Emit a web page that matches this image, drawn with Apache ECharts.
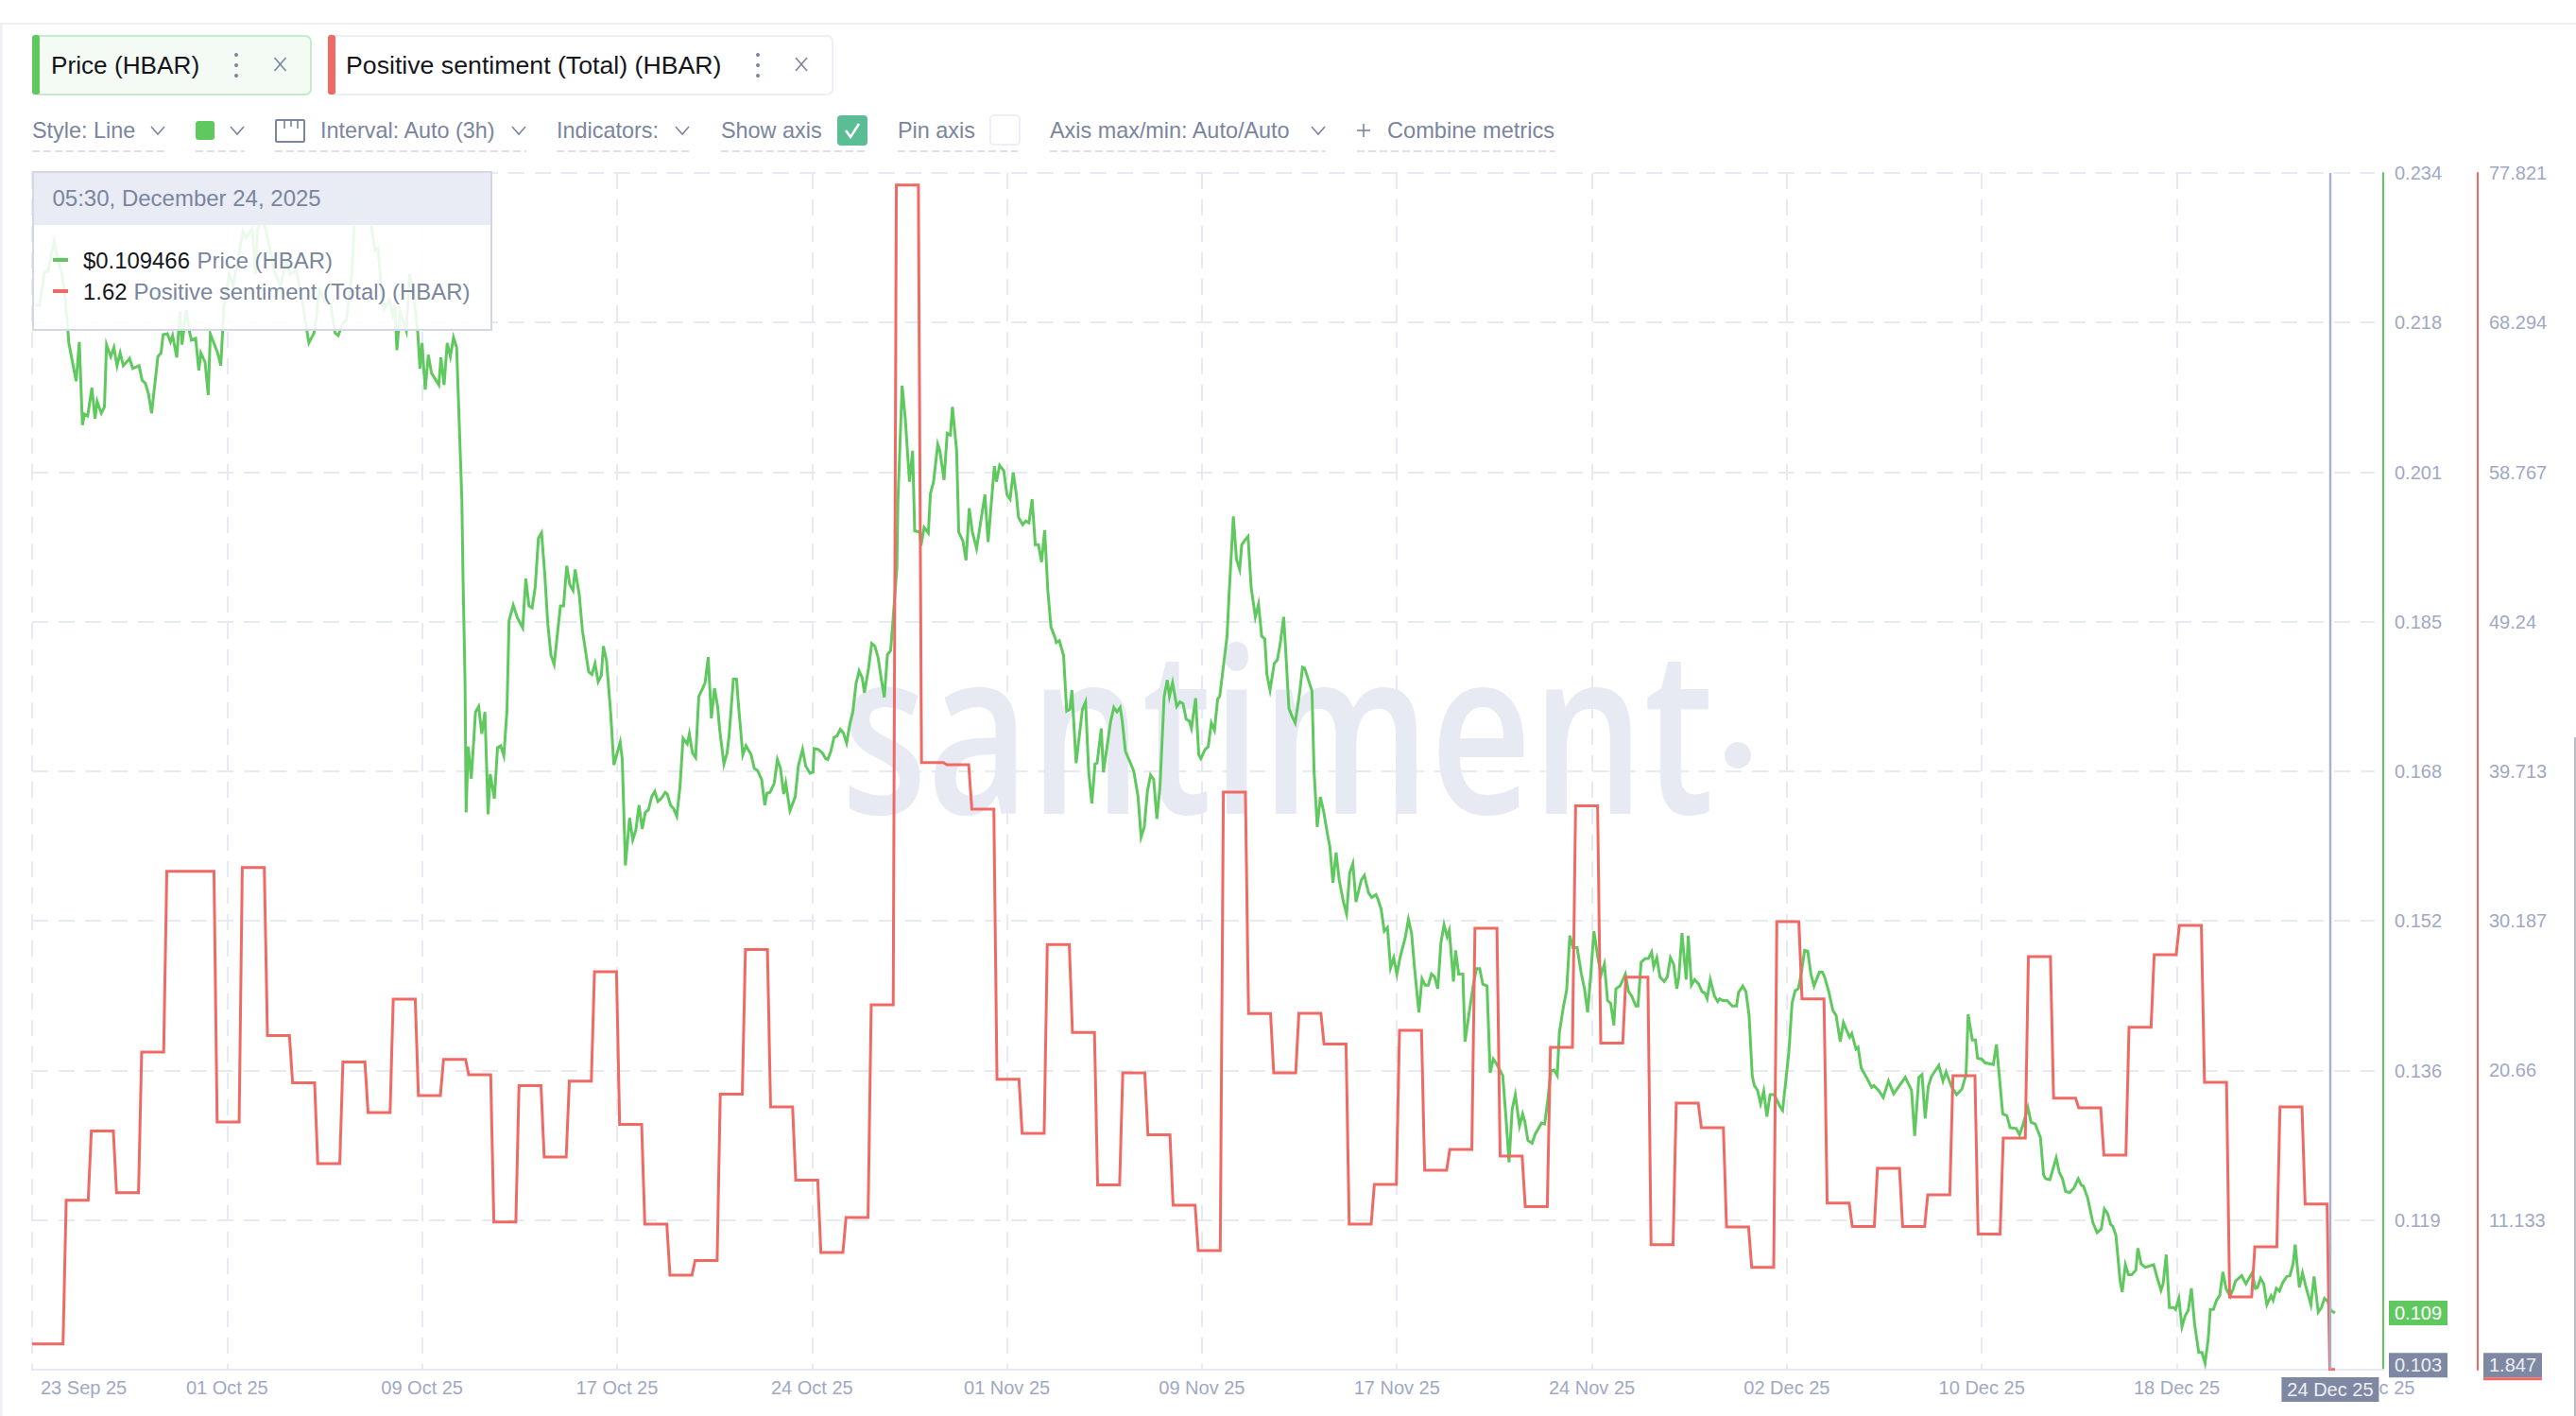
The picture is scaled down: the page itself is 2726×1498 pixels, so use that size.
<!DOCTYPE html>
<html><head><meta charset="utf-8">
<style>html,body{margin:0;padding:0;background:#fff;width:2726px;height:1498px;overflow:hidden}#c{width:2726px;height:1498px}</style>
<script src="https://cdn.jsdelivr.net/npm/echarts@6/dist/echarts.min.js"></script>
</head><body><div id="c"></div>
<script>
// hours since the first sample (late on 23 Sep 25)
const priceHours = [3,7,12,15,21,25,28,31,34,35,42,45,48,50,53,57,60,62,66,69,71,75,78,81,84,87,93,96,102,105,108,111,114,120,123,125,129,132,134,138,141,143,147,150,152,156,159,161,165,168,170,177,180,183,188,192,201,204,210,213,215,219,223,228,231,237,242,246,252,258,264,269,271,274,280,285,289,292,296,300,305,309,312,318,323,327,330,333,336,341,344,346,348,351,357,360,364,368,370,372,375,378,381,388,390,393,396,399,402,405,
410,411,413,414,416,419,423,426,429,432,435,437,441,444,447,450,453,455,459,463,468,471,474,477,480,483,486,489,492,495,498,500,504,507,510,513,516,518,522,525,531,534,537,540,543,545,548,552,555,561,563,566,570,573,576,579,582,585,588,591,594,597,600,604,606,609,612,615,618,621,625,627,630,633,636,639,642,645,648,651,654,656,660,663,665,669,672,674,678,681,683,686,689,692,696,699,701,704,708,711,714,717,719,723,728,731,735,738,742,745,746,750,754,757,759,762,765,768,771,774,777,780,783,786,789,792,794,798,801,804,807,810,813,816,819,821,825,826,830,833,837,840,842,847,848,851,855,857,860,864,866,870,873,876,878,882,884,888,891,894,897,901,909,912,918,920,923,927,930,933,936,939,941,945,948,951,954,957,960,963,966,969,972,976,977,980,984,987,990,992,996,1002,1005,1008,1011,1014,1016,1020,1022,1029,1032,1035,1038,1040,1043,1049,
1051,1055,1058,1061,1064,1067,1070,1073,1076,1080,1083,1085,1088,1092,1095,1098,1101,1104,1106,1110,1113,1115,1119,1122,1125,1128,1131,1133,1140,1142,1146,1149,1152,1154,1157,1160,1163,1167,1170,1173,1176,1178,1181,1185,1188,1191,1194,1196,1199,1202,1205,1209,1212,1214,1221,1223,1226,1229,1232,1236,1238,1241,1244,1247,1251,1254,1257,1260,1263,1268,1271,1275,1278,1282,1284,1287,1290,1293,1296,1299,1302,1305,1310,1313,1316,1319,1323,1326,1329,1332,1335,1338,1341,1344,1347,1350,1352,1356,1358,1361,1365,1367,1371,1375,1378,1381,1384,1388,1391,1394,1397,1403,1406,1409,1412,1415,1419,1422,1424,1427,1431,1434,1440,1443,1446,1449,1452,1455,1457,1461,1464,1467,1470,1474,1478,1481,1484,1487,1490,1494,1497,1500,1503,1506,1509,1511,1515,1520,1523,1526,1530,1532,1535,1539,1542,1545,1547,1550,1553,1557,1560,1563,1566,1569,1571,1574,1578,1580,1583,1586,1590,1593,1596,1598,1601,1605,1608,1610,1613,1617,1622,1626,1628,1632,1635,1638,1641,1643,1646,1649,1652,1655,1658,1662,1667,1670,1673,1676,1679,1682,1685,1688,1691,1694,1697,1700,1705,1708,1710,1714,1718,1721,1725,1728,1732,1734,1736,1740,1742,1745,1750,1755,1757,1762,1766,1771,1776,1787,1793,1796,1800,1803,1806,1809,1812,1819,1823,1826,1831,1836,1841,1845,1847,1851,1854,1856,1860,1863,1871,1874,1880,1884,1887,1893,1896,1899,1904,1907,1911,1916,1919,1921,1925,1931,1934,1937,1940,1944,1948,1952,1955,1957,1961,1966,1970,1974,1977,1980,1983,1985,1988,1992,1994,1997,2000,2003,2007,2009,2012,2016,2024,2027,2031,2033,2036,2039,2043,2045,2048,2051,2054,2057,2060,2063,2067,2070,2073,2076,2078,2081,2084,2087,2090,2093,2097,2100,2102,2108,2112,2118,2121,2123,2126,2129,2132,2136,2138,2141,2144,2147,2151,2154,2157,2159,2163,2166,2169,2174,2177,2181,2184,2187,2190,2193,2197];
const priceValues = [.2195,.2195,.2232,.2232,.2265,.2242,.2232,.2209,.2170,.2154,.2112,.2155,.2064,.2076,.2074,.2105,.2071,.2090,.2077,.2084,.2152,.2139,.2149,.2129,.2143,.2129,.2137,.2126,.2129,.2113,.2110,.2098,.2077,.2139,.2143,.2163,.2164,.2155,.2162,.2138,.2188,.2152,.2190,.2167,.2157,.2159,.2124,.2143,.2133,.2097,.2164,.2143,.2129,.2195,.2229,.2216,.2276,.2269,.2279,.2229,.2279,.2288,.2278,.2250,.2232,.2216,.2243,.2229,.2234,.2198,.2154,.2165,.2181,.2212,.2198,.2195,.2165,.2162,.2175,.2180,.2229,.2322,.2304,.2302,.2288,.2255,.2258,.2216,.2191,.2201,.2185,.2195,.2146,.2188,.2167,.2229,.2209,.2164,.2126,.2154,.2103,.2141,.2121,.2108,.2138,.2108,.2154,.2139,.2160,.2149,
.1981,.1902,.1783,.1640,.1712,.1677,.1750,.1756,.1726,.1750,.1638,.1682,.1655,.1711,.1713,.1702,.1751,.1850,.1867,.1853,.1842,.1896,.1866,.1864,.1887,.1940,.1946,.1902,.1846,.1812,.1802,.1823,.1866,.1866,.1910,.1889,.1883,.1906,.1878,.1839,.1794,.1791,.1803,.1783,.1790,.1822,.1806,.1748,.1692,.1717,.1698,.1582,.1634,.1610,.1621,.1648,.1622,.1640,.1643,.1657,.1663,.1652,.1655,.1662,.1660,.1648,.1644,.1636,.1667,.1721,.1715,.1726,.1705,.1700,.1767,.1774,.1782,.1810,.1743,.1776,.1756,.1730,.1693,.1705,.1725,.1786,.1786,.1756,.1703,.1713,.1709,.1703,.1688,.1686,.1676,.1648,.1661,.1662,.1672,.1698,.1688,.1660,.1672,.1642,.1657,.1691,.1709,.1691,.1683,.1684,.1710,.1709,.1705,.1699,.1698,.1707,.1722,.1724,.1731,.1727,.1716,.1736,.1750,.1781,.1795,.1787,.1771,.1798,.1825,.1822,.1810,.1787,.1766,.1813,.1817,.1846,.1908,.1981,.2107,.2071,.2002,.2036,.1948,.1947,.1932,.1952,.1946,.1989,.2002,.2043,.2036,.2004,.2055,.2053,.2084,.2036,.1947,.1937,.1916,.1973,.1947,.1929,.1988,.1936,.2019,.2002,.2020,.2014,.1988,.1983,.2012,.1988,.1963,.1955,.1959,.1957,.1983,.1933,.1933,.1914,.1949,.1883,.1843,.1831,.1826,.1828,.1812,.1751,.1753,.1774,.1694,.1753,.1761,.1684,.1650,.1693,.1694,.1732,.1684,.1740,.1755,.1750,.1755,.1740,.1707,.1691,
.1685,.1658,.1613,.1624,.1663,.1681,.1676,.1633,.1668,.1767,.1785,.1767,.1782,.1756,.1761,.1759,.1742,.1740,.1732,.1765,.1703,.1699,.1709,.1712,.1738,.1730,.1764,.1767,.1833,.1880,.1964,.1917,.1906,.1933,.1938,.1942,.1886,.1854,.1868,.1833,.1830,.1791,.1774,.1803,.1807,.1827,.1854,.1816,.1754,.1745,.1738,.1769,.1799,.1798,.1773,.1685,.1624,.1657,.1642,.1615,.1603,.1563,.1596,.1566,.1542,.1529,.1574,.1584,.1542,.1566,.1571,.1552,.1547,.1550,.1545,.1534,.1510,.1514,.1470,.1481,.1463,.1481,.1503,.1523,.1508,.1468,.1421,.1458,.1451,.1451,.1463,.1460,.1447,.1497,.1517,.1504,.1511,.1455,.1489,.1463,.1463,.1389,.1421,.1452,.1469,.1469,.1452,.1450,.1355,.1370,.1365,.1352,.1307,.1257,.1315,.1331,.1297,.1310,.1302,.1281,.1278,.1288,.1300,.1299,.1326,.1357,.1358,.1352,.1399,.1428,.1446,.1505,.1492,.1492,.1463,.1447,.1421,.1463,.1510,.1479,.1463,.1474,.1434,.1431,.1407,.1447,.1450,.1463,.1444,.1439,.1428,.1428,.1476,.1480,.1480,.1487,.1471,.1481,.1460,.1455,.1460,.1481,.1474,.1447,.1460,.1508,.1457,.1505,.1451,.1457,.1452,.1444,.1442,.1436,.1457,.1439,.1433,.1436,.1434,.1434,.1428,.1428,.1443,.1450,.1444,.1418,.1352,.1341,.1336,.1321,.1335,.1307,.1331,.1331,.1319,.1314,.1346,.1378,.1431,.1445,.1447,.1465,.1489,.1488,.1463,.1450,.1465,.1465,.1460,.1444,.1423,.1418,.1389,.1410,.1399,.1394,.1398,.1381,.1383,.1360,.1350,.1339,.1341,.1335,.1328,.1346,.1332,.1350,.1336,.1286,.1350,.1353,.1305,.1340,.1351,.1363,.1346,.1356,.1340,.1331,.1337,.1353,.1419,.1391,.1391,.1371,.1370,.1366,.1364,.1386,.1310,.1308,.1295,.1294,.1287,.1297,.1317,.1301,.1299,.1284,.1243,.1239,.1238,.1262,.1246,.1239,.1225,.1224,.1229,.1239,.1232,.1231,.1218,.1191,.1180,.1184,.1206,.1201,.1189,.1187,.1177,.1127,.1115,.1145,.1134,.1134,.1139,.1163,.1146,.1142,.1145,.1132,.1117,.1124,.1156,.1098,.1098,.1096,.1108,.1077,.1089,.1095,.1119,.1080,.1049,.1049,.1037,.1063,.1096,.1096,.1106,.1111,.1137,.1119,.1110,.1119,.1127,.1133,.1124,.1136,.1119,.1120,.1130,.1124,.1101,.1111,.1106,.1119,.1116,.1125,.1132,.1133,.1146,.1167,.1120,.1136,.1122,.1101,.1132,.1093,.1098,.1108,.1105,.1095,.1092];
// daily sentiment levels; the first one runs from the first sample, each later one is a calendar-day value
const sentimentDaily = [3.25,12.40,16.80,12.88,21.84,33.35,33.35,17.38,33.59,22.88,19.88,14.73,21.20,17.98,25.21,19.07,21.37,20.39,11.02,19.69,15.15,19.99,26.95,17.23,10.88,7.63,8.56,19.16,28.37,18.34,13.67,9.07,11.30,24.85,77.06,40.27,40.14,37.31,20.10,16.66,28.68,23.08,13.38,20.51,16.56,12.08,9.19,38.39,24.28,20.51,24.30,22.34,10.88,13.41,23.22,14.31,15.64,29.72,15.21,11.99,22.14,37.52,22.40,26.61,9.57,18.59,17.02,10.70,8.13,30.14,25.22,12.22,10.72,14.43,10.72,12.75,20.33,10.24,16.36,27.92,18.90,18.28,15.27,23.42,28.04,29.90,19.91,6.24,9.43,18.34,12.16];
const sentimentLast = 1.62;
const xTickStep = 186;
const xGridTicks = [0,186,372,558,744,930,1116,1302,1488,1674,1860,2046];
const xLabelTicks = [0,186,372,558,744,930,1116,1302,1488,1674,1860,2046,2232];
const xTickLabels = ['23 Sep 25','01 Oct 25','09 Oct 25','17 Oct 25','24 Oct 25','01 Nov 25','09 Nov 25','17 Nov 25','24 Nov 25','02 Dec 25','10 Dec 25','18 Dec 25','25 Dec 25'];
const priceTicks = [0.103,0.119375,0.13575,0.152125,0.1685,0.184875,0.20125,0.217625,0.234];
const priceTickLabels = ['','0.119','0.136','0.152','0.168','0.185','0.201','0.218','0.234'];
const sentTicks = [1.606,11.133,20.66,30.187,39.713,49.24,58.767,68.294,77.821];
const sentTickLabels = ['','11.133','20.66','30.187','39.713','49.24','58.767','68.294','77.821'];
const cursorHour = 2192, cursorPrice = 0.1034, cursorSent = 1.847, lastPrice = 0.1092;

const priceData = priceHours.map((h,i)=>[h,priceValues[i]]);
const sentData = [[0,sentimentDaily[0]],[29.5,sentimentDaily[0]]];
sentimentDaily.slice(1).forEach((v,i)=>{const s=32.5+24*i;sentData.push([s,v],[s+21,v]);});
sentData.push([cursorHour,sentimentLast],[cursorHour+5,sentimentLast]);

const GREEN='#5fc95f',RED='#ef6a64',MUTED='#7a859e',TICK='#9fa9c4',DARK='#15161c',TAG='#7f88a3',GRID='#e7eaf3',FONT='"Liberation Sans",Arial,sans-serif';

const el=document.getElementById('c');
const chart=echarts.init(el,null,{renderer:'svg',width:2726,height:1498});
const axisBase={type:'value',position:'right',splitLine:{show:false},axisTick:{show:false},
  axisLabel:{color:TICK,fontSize:20,fontFamily:FONT,margin:12}};
chart.setOption({
  animation:false,backgroundColor:'#fff',
  grid:{left:34,right:204,top:183,bottom:49,containLabel:false},
  xAxis:{type:'value',min:0,max:2243,interval:xTickStep,
    axisLine:{show:true,onZero:false,lineStyle:{color:GRID,width:2}},
    axisTick:{show:false,customValues:xGridTicks},
    splitLine:{show:true,lineStyle:{color:GRID,width:2,type:[17,11]}},
    axisLabel:{color:TICK,fontSize:20,fontFamily:FONT,margin:9,alignMinLabel:'left',customValues:xLabelTicks,
      formatter:v=>{const t=xTickLabels[Math.round(v/xTickStep)]||'';return v===0?'{a|'+t+'}':t;},
      rich:{a:{color:TICK,fontSize:20,fontFamily:FONT,padding:[0,0,0,9]}}}},
  yAxis:[
    Object.assign({},axisBase,{min:0.103,max:0.234,offset:0,
      axisLine:{show:true,onZero:false,lineStyle:{color:GREEN,width:2}},
      axisTick:{show:false,customValues:priceTicks},
      splitLine:{show:true,lineStyle:{color:GRID,width:2,type:[17,11]}},
      axisLabel:Object.assign({},axisBase.axisLabel,{customValues:priceTicks,
        formatter:v=>priceTickLabels[priceTicks.indexOf(v)]||''})}),
    Object.assign({},axisBase,{min:1.606,max:77.821,offset:100,
      axisLine:{show:true,onZero:false,lineStyle:{color:RED,width:2}},
      axisTick:{show:false,customValues:sentTicks},
      axisLabel:Object.assign({},axisBase.axisLabel,{customValues:sentTicks,
        formatter:v=>sentTickLabels[sentTicks.indexOf(v)]||''})})
  ],
  series:[
    {name:'Price (HBAR)',type:'line',yAxisIndex:0,data:priceData,showSymbol:false,silent:true,z:3,
      lineStyle:{color:GREEN,width:3,join:'miter',miterLimit:6},itemStyle:{color:GREEN},
      markLine:{silent:true,symbol:'none',animation:false,label:{show:false},
        lineStyle:{color:'#a8b1cc',width:2.4,type:'solid'},z:6,
        data:[{xAxis:cursorHour},{yAxis:cursorPrice}]}},
    {name:'Positive sentiment (Total) (HBAR)',type:'line',yAxisIndex:1,data:sentData,showSymbol:false,silent:true,z:4,
      lineStyle:{color:RED,width:3,join:'miter',miterLimit:6},itemStyle:{color:RED}}
  ]
});

// page furniture around the plot
const T=(x,y,text,size,fill,align,z)=>({type:'text',x,y,z:z||20,silent:true,style:{text,fontSize:size,fontFamily:FONT,fill,align:align||'left',verticalAlign:'middle'}});
const R=(x,y,w,h,fill,r,stroke,z,op)=>({type:'rect',z:z||19,silent:true,shape:{x,y,width:w,height:h,r:r||0},style:{fill:fill||'none',stroke:stroke||null,lineWidth:stroke?2:0,opacity:op==null?1:op}});
const L=(x1,y1,x2,y2,c,w,dash,z)=>({type:'line',z:z||19,silent:true,shape:{x1,y1,x2,y2},style:{stroke:c,lineWidth:w||2,lineDash:dash||null}});
const chev=(x,y)=>({type:'polyline',z:19,silent:true,shape:{points:[[x-7,y-4],[x,y+4],[x+7,y-4]]},style:{stroke:MUTED,fill:'none',lineWidth:1.6}});
const dots=(x,y)=>[-11,0,11].map(d=>({type:'circle',z:20,silent:true,shape:{cx:x,cy:y+d,r:2},style:{fill:MUTED}}));
const cross=(x,y)=>[L(x-6,y-7,x+6,y+7,MUTED,1.6,null,20),L(x+6,y-7,x-6,y+7,MUTED,1.6,null,20)];
const under=(a,b)=>L(a,160,b,160,'#dcdfee',2,[8,4]);
const gr=[
  // watermark
  {type:'text',x:890,y:888,z:1,silent:true,scaleX:0.77,style:{text:'santiment',fontSize:243,fontWeight:600,fontFamily:'"Open Sans"',fill:GRID,align:'left',verticalAlign:'bottom',lineHeight:243}},
  {type:'circle',z:1,silent:true,shape:{cx:1839,cy:799,r:14},style:{fill:GRID}},
  // gap between the plot's grid and the price axis
  R(2513,180,8,1262,'#fff',0,null,1),
  // page edges
  L(0,25,2726,25,'#eeeef5',2),L(1,25,1,1498,'#eeeef5',3),L(2725,780,2725,1498,'#b8bdcc',2),
  // chips
  R(35,38,294,62,'#f4fbf5',6,'#c3ecca'),R(34,37,8,63,GREEN,3),T(54,69,'Price (HBAR)',26.2,DARK),...dots(250,69),...cross(296.5,68),
  R(348,38,533,62,'#fff',6,'#eeeef6'),R(347,37,8,63,RED,3),T(366,69,'Positive sentiment (Total) (HBAR)',26.7,DARK),...dots(802,69),...cross(848,68),
  // controls
  T(34,138,'Style: Line',23.4,MUTED),chev(167,138),under(34,175),
  R(207,128,20,20,GREEN,3),chev(251,138),under(207,259),
  R(292,127,30,23,null,1,MUTED),L(301,127,301,136,MUTED,1.6),L(308,127,308,134,MUTED,1.6),L(315,127,315,136,MUTED,1.6),
  T(339,138,'Interval: Auto (3h)',23.4,MUTED),chev(549,138),under(291,557),
  T(589,138,'Indicators:',23.4,MUTED),chev(722,138),under(589,731),
  T(763,138,'Show axis',23.4,MUTED),R(886,122,32,32,'#5abd93',4),
  {type:'polyline',z:20,silent:true,shape:{points:[[895,138],[900,145],[909,131]]},style:{stroke:'#fff',fill:'none',lineWidth:2.6}},under(763,916),
  T(950,138,'Pin axis',23.4,MUTED),R(1048,122,31,31,'#fff',4,'#eeeef6'),under(950,1077),
  T(1111,138,'Axis max/min: Auto/Auto',23.4,MUTED),chev(1395,138),under(1111,1403),
  L(1436,138,1450,138,MUTED,1.6),L(1443,131,1443,145,MUTED,1.6),T(1468,138,'Combine metrics',23.6,MUTED),under(1436,1646),
  // readout box
  R(34,181,487,168,'#fff',0,null,30,0.88),R(34,181,487,57,GRID,0,null,30,0.92),
  R(35,182,485,167,null,0,'#d3d7e7',31),
  T(55.5,209,'05:30, December 24, 2025',24,MUTED,'left',32),
  R(56,273,16,4,GREEN,0,null,32),T(88,275,'$0.109466',23.9,DARK,'left',32),T(208.5,275,'Price (HBAR)',23.9,MUTED,'left',32),
  R(56,306,16,4,RED,0,null,32),T(88,308,'1.62',23.9,DARK,'left',32),T(141.6,308,'Positive sentiment (Total) (HBAR)',23.9,MUTED,'left',32)
];
// value tags placed from the axes' own scales
const yP=v=>chart.convertToPixel({yAxisIndex:0},v), xP=v=>chart.convertToPixel({xAxisIndex:0},v);
const yLast=yP(lastPrice), yCur=yP(cursorPrice), xCur=xP(cursorHour);
const tag=(x,y,w,h,fill,text,color)=>[R(x,y,w,h,fill,0,null,40),T(x+w/2,y+h/2,text,20,color,'center',41)];
gr.push(
  ...tag(2528,yLast-13,62,26,GREEN,lastPrice.toFixed(3),'#fff'),
  ...tag(2528,yCur-14,62,26,TAG,cursorPrice.toFixed(3),'#eceef4'),
  ...tag(2628,yCur-14,62,26,TAG,cursorSent.toFixed(3),'#eceef4'),R(2628,yCur+12,62,3,RED,0,null,40),
  ...tag(xCur-51,1457,103,26,TAG,'24 Dec 25','#eceef4')
);
chart.setOption({graphic:{elements:gr}});
</script></body></html>
